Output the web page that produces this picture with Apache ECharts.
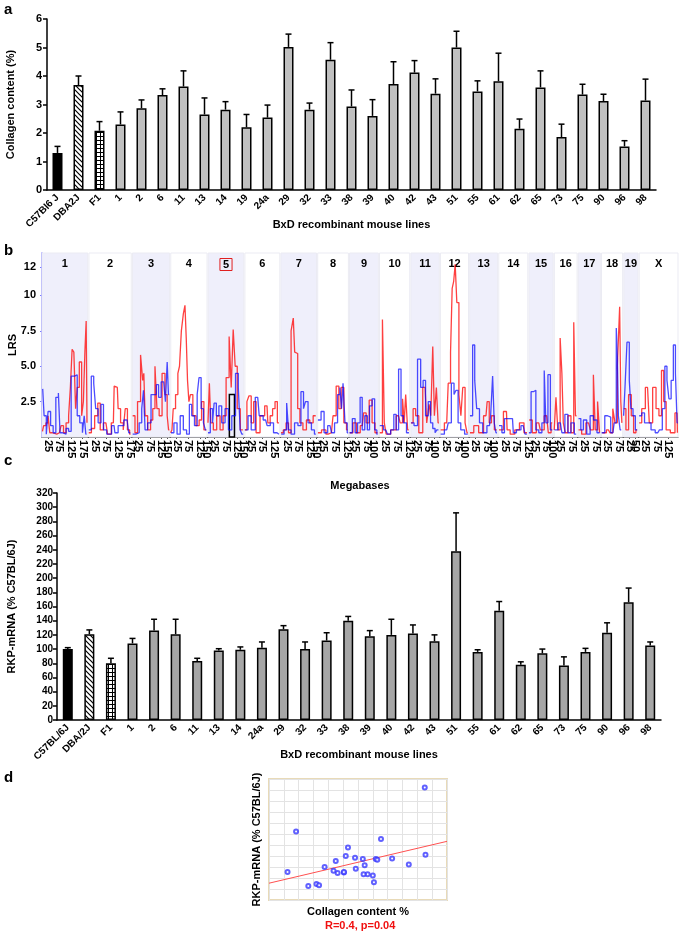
<!DOCTYPE html>
<html>
<head>
<meta charset="utf-8">
<title>Collagen / RKP / LRS</title>
<script src="https://cdn.jsdelivr.net/npm/echarts@6.0.0/dist/echarts.min.js"></script>
<style>
html, body { margin: 0; padding: 0; background: #fff; }
#chart { width: 685px; height: 934px; }
</style>
</head>
<body>
<div id="chart"></div>
<script>
// ---- panel a: collagen content
var collagenLines = ['C57Bl6 J', 'DBA2J', 'F1', '1', '2', '6', '11', '13', '14', '19', '24a', '29', '32', '33',
  '38', '39', '40', '42', '43', '51', '55', '61', '62', '65', '73', '75', '90', '96', '98'];
var collagenMean = [1.3, 3.68, 2.08, 2.3, 2.87, 3.33, 3.63, 2.65, 2.82, 2.2, 2.54, 5.02, 2.82, 4.57,
  2.93, 2.6, 3.72, 4.12, 3.38, 5.0, 3.46, 3.82, 2.15, 3.6, 1.86, 3.35, 3.12, 1.53, 3.14];
var collagenErr = [0.23, 0.32, 0.32, 0.44, 0.29, 0.22, 0.55, 0.58, 0.28, 0.45, 0.44, 0.45, 0.23, 0.6,
  0.58, 0.57, 0.78, 0.42, 0.52, 0.57, 0.37, 0.98, 0.34, 0.58, 0.45, 0.36, 0.24, 0.2, 0.75];

// ---- panel c: RKP mRNA
var rkpLines = ['C57BL/6J', 'DBA/2J', 'F1', '1', '2', '6', '11', '13', '14', '24a', '29', '32', '33',
  '38', '39', '40', '42', '43', '51', '55', '61', '62', '65', '73', '75', '90', '96', '98'];
var rkpMean = [100, 121, 80, 108, 126, 121, 83, 98, 99, 102, 128, 100, 112,
  140, 118, 120, 122, 111, 238, 96, 154, 78, 94, 77, 96, 123, 166, 105];
var rkpErr = [2, 6, 7, 7, 16, 21, 4, 2.5, 4, 8, 5, 10, 11,
  6, 8, 22, 12, 9, 54, 3, 13, 4, 6, 12, 5, 14, 20, 5];
var rkpToCollagen = { 'C57BL/6J': 'C57Bl6 J', 'DBA/2J': 'DBA2J' };

// ---- panel d: fitted line
var fitLine = [[0.8, 81.5], [5.6, 150]];

// ---- panel b: interval mapping
var chromNames = ['1', '2', '3', '4', '5', '6', '7', '8', '9', '10', '11', '12', '13', '14', '15', '16', '17', '18', '19', 'X'];
var chromLengths = [197, 182, 160, 156, 153, 150, 153, 132, 124, 130, 122, 121, 120, 125, 104, 98, 95, 91, 61, 167];
var chromTicks = [[25, 75, 125, 175], [25, 75, 125, 175], [25, 75, 125, 150], [25, 75, 125, 150], [25, 75, 125, 150],
  [25, 75, 125], [25, 75, 125, 150], [25, 75, 125], [25, 75, 100], [25, 75, 125], [25, 75, 100], [25, 75, 100],
  [25, 75, 100], [25, 75, 125], [25, 75, 100], [25, 75], [25, 75], [25, 75], [25, 50], [25, 75, 125, 150]];
var lrsTicks = [2.5, 5, 7.5, 10, 12];
var selectedInterval = [5, 91, 113, 3.0]; // chromosome number, Mb from, Mb to, LRS height

var redLRS = [
  [[2,0.4],[12,0.8],[22,1.0],[30,1.5],[37,0.3],[52,0.2],[75,0.3],[89,0.8],[96,0.3],[111,1.0],[118,1.5],[126,3.5],[133,6.2],[141,6.0],[148,2.0],[155,3.5],[166,5.3],[175,1.5],[181,2.5],[188,6.0],[192,8.2],[195,1.0]],
  [[3,0.3],[18,0.6],[31,1.5],[45,2.4],[52,0.5],[73,1.0],[87,0.2],[105,1.0],[112,3.6],[122,3.5],[129,2.0],[143,1.0],[152,0.5],[160,2.0],[171,0.5],[179,0.2]],
  [[7,1.5],[15,0.3],[29,2.5],[41,5.8],[47,4.0],[51,4.5],[58,1.5],[73,0.5],[83,1.2],[92,2.0],[102,5.0],[109,2.0],[121,1.5],[134,4.5],[146,3.0],[153,1.5],[158,0.5]],
  [[3,0.3],[7,0.5],[14,2.0],[27,3.0],[34,4.5],[41,5.0],[50,7.5],[58,8.7],[64,9.3],[69,7.0],[75,4.0],[81,2.5],[88,3.0],[102,1.5],[115,0.8],[129,1.2],[136,2.5],[149,0.5]],
  [[3,1.0],[7,3.8],[15,1.0],[29,0.5],[44,1.5],[58,0.5],[70,1.5],[84,4.2],[96,7.1],[102,3.5],[113,7.6],[119,5.0],[131,2.0],[145,0.5]],
  [[3,0.5],[14,2.5],[20,2.9],[34,1.0],[41,2.5],[55,0.3],[75,1.5],[95,2.2],[102,1.0],[115,1.5],[123,2.0],[136,2.5],[143,1.0]],
  [[5,0.3],[15,0.5],[29,1.0],[36,0.3],[51,7.5],[55,8.4],[63,6.0],[68,5.9],[76,2.0],[87,1.0],[102,0.5],[117,1.2],[131,1.0],[146,1.5]],
  [[7,0.3],[26,0.5],[45,0.2],[59,0.3],[73,1.5],[86,3.6],[96,2.0],[106,3.5],[119,1.0],[129,0.5]],
  [[7,0.3],[22,1.0],[37,0.3],[55,0.8],[66,1.7],[77,1.0],[92,2.6],[102,1.0],[117,0.3]],
  [[7,0.3],[18,8.3],[23,1.0],[34,0.2],[62,0.5],[82,1.5],[95,1.0],[103,2.7],[109,1.0],[116,3.0],[126,0.5]],
  [[5,1.0],[14,2.0],[27,1.5],[41,0.3],[61,3.5],[75,1.0],[81,2.3],[90,1.5],[98,6.4],[104,1.5],[115,3.5],[119,1.0]],
  [[7,0.5],[27,1.0],[40,3.8],[47,6.0],[54,10.5],[60,11.0],[67,12.2],[74,9.5],[85,3.0],[91,1.5],[101,3.5],[111,1.0],[118,0.3]],
  [[7,0.3],[28,0.8],[49,0.3],[70,1.5],[80,2.5],[88,1.0],[99,1.5],[113,0.5]],
  [[7,0.5],[33,1.8],[39,0.5],[59,0.2],[79,0.5],[99,1.0],[118,0.3]],
  [[7,1.2],[21,0.3],[42,1.0],[55,0.5],[76,1.5],[90,0.3],[100,1.0]],
  [[4,0.5],[10,2.8],[20,0.5],[30,7.0],[35,4.5],[42,1.0],[52,0.3],[65,1.5],[78,0.3],[89,8.1],[93,1.5]],
  [[7,0.5],[22,0.2],[44,1.0],[60,0.5],[70,4.4],[76,0.5],[90,2.5],[93,0.3]],
  [[12,0.3],[30,0.5],[42,0.3],[55,2.0],[61,1.0],[75,5.0],[81,9.2],[85,2.5],[90,1.0]],
  [[4,2.0],[14,0.5],[27,3.0],[37,1.5],[47,0.3],[57,0.5]],
  [[5,1.0],[17,2.0],[36,3.5],[51,1.0],[65,3.5],[80,2.0],[90,1.5],[102,4.7],[109,2.5],[123,0.5],[145,0.3],[163,1.7],[166,0.3]]
];
var blueLRS = [
  [[3,3.4],[15,1.5],[22,0.2],[30,1.8],[44,0.8],[52,0.3],[67,2.8],[74,3.1],[81,0.3],[96,0.2],[111,0.6],[118,0.4],[133,4.3],[148,4.4],[155,1.5],[170,1.0],[178,0.3],[185,1.5],[192,0.2]],
  [[3,0.5],[17,4.3],[24,3.8],[34,2.0],[45,1.0],[59,2.3],[66,0.5],[87,0.2],[108,0.8],[115,0.3],[136,0.8],[164,1.2],[178,0.3]],
  [[7,0.2],[22,0.3],[36,1.0],[44,2.0],[51,3.3],[58,0.5],[73,1.0],[87,3.0],[97,3.0],[109,3.7],[116,2.8],[131,3.9],[138,3.8],[146,2.5],[153,5.3],[157,3.0]],
  [[7,0.3],[20,1.0],[34,0.2],[47,1.5],[61,0.5],[75,0.2],[85,2.3],[95,1.5],[109,0.8],[118,3.0],[125,4.2],[136,2.0],[145,1.0],[153,0.5]],
  [[3,0.3],[15,2.0],[22,1.0],[29,2.4],[41,1.5],[51,2.2],[65,1.0],[80,2.0],[94,0.5],[109,1.5],[126,4.5],[133,3.5],[142,0.5],[148,0.2]],
  [[7,0.5],[20,1.5],[34,0.5],[55,2.8],[68,1.5],[89,1.2],[102,0.8],[116,1.0],[130,0.3],[146,0.2]],
  [[7,0.2],[20,0.5],[29,2.4],[36,0.5],[51,0.2],[66,1.0],[80,0.8],[92,3.2],[102,2.0],[109,2.5],[124,1.0],[138,0.5],[150,0.2]],
  [[7,1.2],[22,1.8],[33,0.3],[53,0.8],[66,0.3],[79,1.0],[92,3.0],[99,3.5],[106,2.0],[112,3.8],[123,1.0],[131,0.3]],
  [[5,0.3],[19,1.3],[29,0.3],[40,1.0],[51,2.8],[58,0.5],[73,1.5],[80,0.5],[92,2.2],[102,2.7],[114,0.5],[121,0.2]],
  [[7,0.8],[27,0.5],[41,0.2],[55,0.5],[68,1.6],[75,0.5],[89,4.8],[96,1.5],[109,1.0],[123,0.3]],
  [[7,1.0],[20,0.8],[37,5.5],[47,3.5],[58,4.0],[68,1.5],[81,2.5],[88,1.0],[100,0.6],[108,0.3],[115,0.5]],
  [[7,0.2],[27,0.5],[40,1.0],[54,3.8],[63,3.0],[71,3.3],[81,1.0],[94,0.5],[114,0.2]],
  [[7,1.5],[18,6.5],[25,4.0],[35,2.0],[49,1.0],[63,0.3],[85,0.8],[95,1.5],[102,4.3],[109,1.0],[117,0.3]],
  [[7,0.8],[20,0.3],[29,1.3],[37,1.3],[59,1.3],[66,0.3],[86,0.5],[105,0.8],[121,0.2]],
  [[4,0.3],[14,3.2],[24,3.3],[35,0.5],[49,0.3],[62,1.0],[69,4.7],[76,1.0],[87,4.4],[97,0.5]],
  [[7,0.5],[26,1.0],[39,0.3],[52,1.6],[65,0.3],[78,1.0],[94,0.2]],
  [[7,1.3],[15,0.5],[29,1.2],[44,0.2],[58,1.5],[73,1.2],[88,0.3]],
  [[6,0.3],[22,1.5],[30,1.4],[49,0.3],[60,1.0],[67,7.7],[70,5.5],[75,1.5],[85,0.5]],
  [[3,1.5],[7,3.5],[20,6.7],[27,4.0],[34,2.0],[45,1.5],[54,0.5]],
  [[5,1.5],[17,1.7],[29,1.0],[44,1.0],[58,0.5],[80,0.3],[94,0.5],[105,2.0],[116,5.0],[123,4.0],[133,2.7],[142,4.0],[152,6.5],[160,4.5],[166,1.0]]
];

var FONT = "'Liberation Sans', Arial, sans-serif";
var CHR_GAP = 5;

// cumulative chromosome offsets on the genome axis
var chromOffset = [];
var acc = 0;
for (var i = 0; i < chromLengths.length; i++) {
  chromOffset.push(acc);
  acc += chromLengths[i] + (i < chromLengths.length - 1 ? CHR_GAP : 0);
}
var genomeLength = acc;

var mbTickPos = [];
var mbTickText = {};
chromTicks.forEach(function (ticks, c) {
  ticks.forEach(function (t) {
    var p = chromOffset[c] + t;
    mbTickPos.push(p);
    mbTickText[p] = String(t);
  });
});

function genomeSeries(perChrom) {
  var out = [];
  perChrom.forEach(function (pts, c) {
    pts.forEach(function (p) { out.push([chromOffset[c] + p[0], p[1]]); });
    out.push([chromOffset[c] + chromLengths[c], '-']);
  });
  return out;
}

var bands = chromNames.map(function (name, c) {
  var odd = c % 2 === 0 && name !== 'X';
  var first = {
    xAxis: chromOffset[c],
    name: name,
    itemStyle: { color: odd ? '#efeffb' : '#ffffff', borderColor: '#ebebf3', borderWidth: 1 }
  };
  if (name === '5') {
    first.label = { borderColor: '#e02020', borderWidth: 1, padding: [1, 3, 0, 3] };
  }
  return [first, { xAxis: chromOffset[c] + chromLengths[c] }];
});

// fill patterns for the parental / F1 bars
function hatchPattern() {
  var c = document.createElement('canvas');
  c.width = c.height = 5;
  var g = c.getContext('2d');
  g.fillStyle = '#fff'; g.fillRect(0, 0, 5, 5);
  g.strokeStyle = '#000'; g.lineWidth = 1.2;
  g.beginPath();
  g.moveTo(-1, -1); g.lineTo(6, 6);
  g.moveTo(-1, 4); g.lineTo(1, 6);
  g.moveTo(4, -1); g.lineTo(6, 1);
  g.stroke();
  return { image: c, repeat: 'repeat' };
}
function gridPattern() {
  var c = document.createElement('canvas');
  c.width = c.height = 4;
  var g = c.getContext('2d');
  g.fillStyle = '#fff'; g.fillRect(0, 0, 4, 4);
  g.fillStyle = '#000';
  g.fillRect(0, 0, 4, 1);
  g.fillRect(0, 0, 1, 4);
  return { image: c, repeat: 'repeat' };
}

function barItems(values, grey) {
  return values.map(function (v, i) {
    var color = grey;
    if (i === 0) color = '#000';
    if (i === 1) color = hatchPattern();
    if (i === 2) color = gridPattern();
    return { value: v, itemStyle: { color: color } };
  });
}

function errItems(values, errs) {
  return values.map(function (v, i) { return [i, v, errs[i]]; });
}

function renderErr(params, api) {
  var x = api.value(0), v = api.value(1), e = api.value(2);
  var p0 = api.coord([x, v]);
  var p1 = api.coord([x, v + e]);
  var st = { stroke: '#000', lineWidth: 1.5 };
  return {
    type: 'group',
    children: [
      { type: 'line', shape: { x1: p0[0], y1: p0[1], x2: p1[0], y2: p1[1] }, style: st },
      { type: 'line', shape: { x1: p1[0] - 3, y1: p1[1], x2: p1[0] + 3, y2: p1[1] }, style: st }
    ]
  };
}

var scatterData = rkpLines.map(function (name, i) {
  var j = collagenLines.indexOf(rkpToCollagen[name] || name);
  return [collagenMean[j], rkpMean[i]];
});

var blackAxis = { lineStyle: { color: '#000', width: 1.5 } };
var boldLabel = { color: '#000', fontWeight: 'bold', fontFamily: FONT };
var nameStyle = { color: '#000', fontWeight: 'bold', fontSize: 11, fontFamily: FONT };

var myChart = echarts.init(document.getElementById('chart'), null, { renderer: 'canvas' });

var option = {
  animation: false,
  backgroundColor: '#fff',
  textStyle: { fontFamily: FONT },
  graphic: [
    { type: 'text', left: 4, top: 2, style: { text: 'a', font: 'bold 15px ' + FONT, fill: '#000' } },
    { type: 'text', left: 4, top: 243, style: { text: 'b', font: 'bold 15px ' + FONT, fill: '#000' } },
    { type: 'text', left: 4, top: 453, style: { text: 'c', font: 'bold 15px ' + FONT, fill: '#000' } },
    { type: 'text', left: 4, top: 770, style: { text: 'd', font: 'bold 15px ' + FONT, fill: '#000' } },
    { type: 'text', left: 325, top: 920, style: { text: 'R=0.4, p=0.04', font: 'bold 11px ' + FONT, fill: '#f01010' } }
  ],
  grid: [
    { left: 47, top: 19, width: 609, height: 171, outerBoundsMode: 'none' },
    { left: 42, top: 253, width: 636, height: 184, outerBoundsMode: 'none' },
    { left: 57, top: 493, width: 604, height: 227, outerBoundsMode: 'none' },
    { left: 269, top: 779, width: 178, height: 121, outerBoundsMode: 'none', show: true, borderColor: '#e8dab8', borderWidth: 2 }
  ],
  xAxis: [
    {
      type: 'category', gridIndex: 0, data: collagenLines,
      axisLine: blackAxis, axisTick: { length: 4, lineStyle: { color: '#000', width: 1.5 } },
      axisLabel: Object.assign({ rotate: 45, interval: 0, fontSize: 10, margin: 6 }, boldLabel),
      name: 'BxD recombinant mouse lines', nameLocation: 'middle', nameGap: 29, nameMoveOverlap: false, nameTextStyle: nameStyle
    },
    {
      type: 'value', gridIndex: 1, min: 0, max: genomeLength,
      axisLine: { lineStyle: { color: '#555', width: 1 } },
      axisTick: { customValues: mbTickPos, length: 2, lineStyle: { color: '#555' } },
      axisLabel: Object.assign({
        customValues: mbTickPos, rotate: -90, fontSize: 11, margin: 3,
        formatter: function (v) { return mbTickText[Math.round(v)] || ''; }
      }, boldLabel),
      splitLine: { show: false },
      name: 'Megabases', nameLocation: 'middle', nameGap: 43, nameMoveOverlap: false, nameTextStyle: nameStyle
    },
    {
      type: 'category', gridIndex: 2, data: rkpLines,
      axisLine: blackAxis, axisTick: { length: 4, lineStyle: { color: '#000', width: 1.5 } },
      axisLabel: Object.assign({ rotate: 45, interval: 0, fontSize: 10, margin: 6 }, boldLabel),
      name: 'BxD recombinant mouse lines', nameLocation: 'middle', nameGap: 29, nameMoveOverlap: false, nameTextStyle: nameStyle
    },
    {
      type: 'value', gridIndex: 3, min: 0.8, max: 5.6, interval: 0.4,
      axisLine: { show: false }, axisTick: { show: false }, axisLabel: { show: false },
      splitLine: { lineStyle: { color: '#e3e3e3', width: 1 } },
      name: 'Collagen content %', nameLocation: 'middle', nameGap: 6, nameMoveOverlap: false, nameTextStyle: nameStyle
    }
  ],
  yAxis: [
    {
      type: 'value', gridIndex: 0, min: 0, max: 6, interval: 1,
      axisLine: { show: true, lineStyle: { color: '#000', width: 1.5 } },
      axisTick: { show: true, length: 4, lineStyle: { color: '#000', width: 1.5 } },
      axisLabel: Object.assign({ fontSize: 11, margin: 5 }, boldLabel),
      splitLine: { show: false },
      name: 'Collagen content (%)', nameLocation: 'middle', nameGap: 31, nameMoveOverlap: false, nameTextStyle: nameStyle
    },
    {
      type: 'value', gridIndex: 1, min: 0, max: 13,
      axisLine: { show: true, lineStyle: { color: '#7a7aff', width: 1.5 } },
      axisTick: { show: true, customValues: lrsTicks, length: 2, lineStyle: { color: '#7a7aff' } },
      axisLabel: Object.assign({
        customValues: lrsTicks, fontSize: 11, margin: 6,
        formatter: function (v) { return (v === 5 ? '5.0' : String(v)); }
      }, boldLabel),
      splitLine: { show: false },
      name: 'LRS', nameLocation: 'middle', nameGap: 24, nameMoveOverlap: false, nameTextStyle: nameStyle
    },
    {
      type: 'value', gridIndex: 2, min: 0, max: 320, interval: 20,
      axisLine: { show: true, lineStyle: { color: '#000', width: 1.5 } },
      axisTick: { show: true, length: 4, lineStyle: { color: '#000', width: 1.5 } },
      axisLabel: Object.assign({ fontSize: 10, margin: 4 }, boldLabel),
      splitLine: { show: false },
      name: 'RKP-mRNA (% C57BL/6J)', nameLocation: 'middle', nameGap: 40, nameMoveOverlap: false, nameTextStyle: nameStyle
    },
    {
      type: 'value', gridIndex: 3, min: 54, max: 252, interval: 18,
      axisLine: { show: false }, axisTick: { show: false }, axisLabel: { show: false },
      splitLine: { lineStyle: { color: '#e3e3e3', width: 1 } },
      name: 'RKP-mRNA (% C57BL/6J)', nameLocation: 'middle', nameGap: 7, nameMoveOverlap: false, nameTextStyle: nameStyle
    }
  ],
  series: [
    {
      type: 'bar', xAxisIndex: 0, yAxisIndex: 0, barWidth: 10,
      data: barItems(collagenMean, '#c0c0c0'),
      itemStyle: { borderColor: '#000', borderWidth: 1.5 }
    },
    {
      type: 'custom', xAxisIndex: 0, yAxisIndex: 0, renderItem: renderErr,
      data: errItems(collagenMean, collagenErr), encode: { x: 0, y: 1 }, z: 5
    },
    {
      type: 'line', xAxisIndex: 1, yAxisIndex: 1, data: [], z: 1, silent: true,
      markArea: {
        silent: true,
        label: { show: true, position: 'insideTop', distance: 6, color: '#000', fontWeight: 'bold', fontSize: 11, fontFamily: FONT },
        data: bands
      }
    },
    {
      type: 'line', xAxisIndex: 1, yAxisIndex: 1, data: genomeSeries(redLRS), z: 3,
      showSymbol: false, step: 'middle',
      lineStyle: { color: 'rgba(255,0,0,0.75)', width: 1.3 }
    },
    {
      type: 'line', xAxisIndex: 1, yAxisIndex: 1, data: genomeSeries(blueLRS), z: 4,
      showSymbol: false, step: 'middle',
      lineStyle: { color: 'rgba(0,0,255,0.7)', width: 1.3 }
    },
    {
      type: 'line', xAxisIndex: 1, yAxisIndex: 1, data: [], z: 6, silent: true,
      markArea: {
        silent: true,
        itemStyle: { color: 'rgba(0,0,0,0)', borderColor: '#000', borderWidth: 1.5 },
        data: [[
          { xAxis: chromOffset[selectedInterval[0] - 1] + selectedInterval[1], yAxis: 0 },
          { xAxis: chromOffset[selectedInterval[0] - 1] + selectedInterval[2], yAxis: selectedInterval[3] }
        ]]
      }
    },
    {
      type: 'bar', xAxisIndex: 2, yAxisIndex: 2, barWidth: 10,
      data: barItems(rkpMean, '#a6a6a6'),
      itemStyle: { borderColor: '#000', borderWidth: 1.5 }
    },
    {
      type: 'custom', xAxisIndex: 2, yAxisIndex: 2, renderItem: renderErr,
      data: errItems(rkpMean, rkpErr), encode: { x: 0, y: 1 }, z: 5
    },
    {
      type: 'line', xAxisIndex: 3, yAxisIndex: 3, data: fitLine, z: 3,
      showSymbol: false, lineStyle: { color: '#ff5050', width: 1 }
    },
    {
      type: 'scatter', xAxisIndex: 3, yAxisIndex: 3, data: scatterData, z: 4,
      symbol: 'emptyCircle', symbolSize: 4,
      itemStyle: { color: '#3a3aff', borderColor: '#3a3aff', borderWidth: 0.8 }
    }
  ]
};

myChart.setOption(option);
</script>
</body>
</html>
